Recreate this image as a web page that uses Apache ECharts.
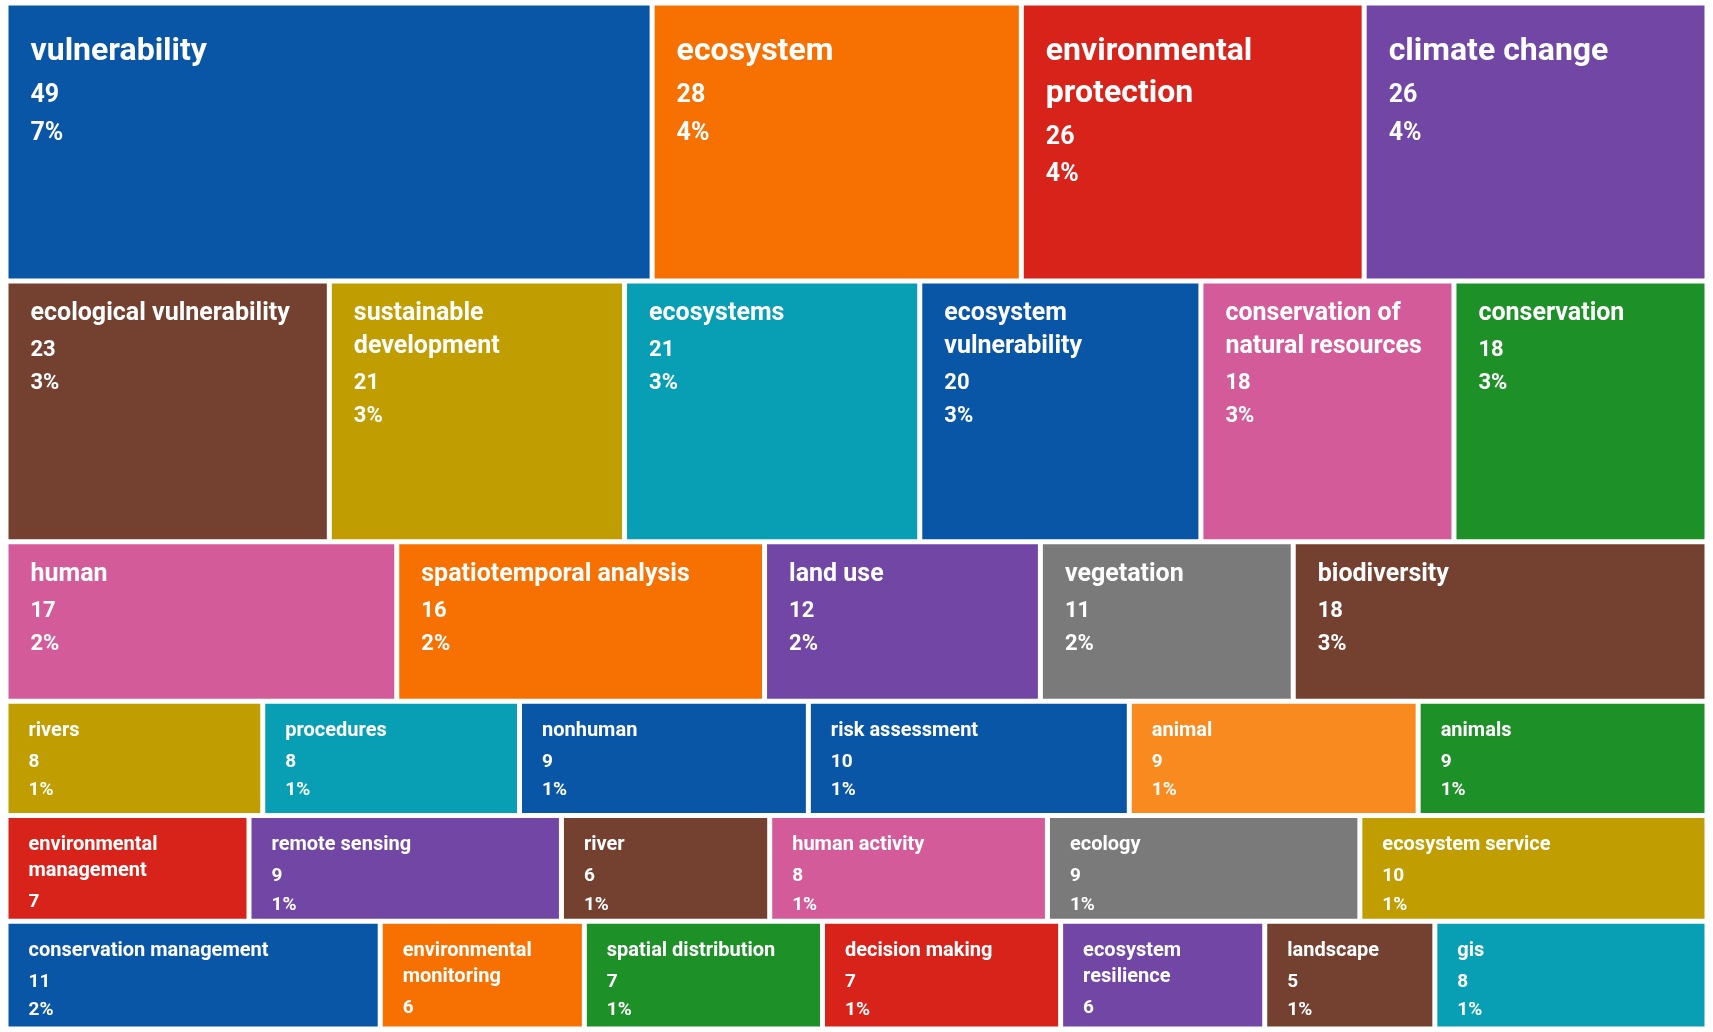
<!DOCTYPE html>
<html>
<head>
<meta charset="utf-8">
<script src="https://cdn.jsdelivr.net/npm/echarts@6/dist/echarts.min.js"></script>
<style>html,body{margin:0;padding:0;background:#fff}#chart{width:1713px;height:1032px}</style>
</head>
<body>
<div id="chart"></div>
<script>
// keyword rows of the treemap, top to bottom
var row1Names = ['vulnerability', 'ecosystem', 'environmental protection', 'climate change'];
var row1Values = [49, 28, 26, 26];
var row2Names = ['ecological vulnerability', 'sustainable development', 'ecosystems', 'ecosystem vulnerability', 'conservation of natural resources', 'conservation'];
var row2Values = [23, 21, 21, 20, 18, 18];
var row3Names = ['human', 'spatiotemporal analysis', 'land use', 'vegetation', 'biodiversity'];
var row3Values = [17, 16, 12, 11, 18];
var row4Names = ['rivers', 'procedures', 'nonhuman', 'risk assessment', 'animal', 'animals'];
var row4Values = [8, 8, 9, 10, 9, 9];
var row5Names = ['environmental management', 'remote sensing', 'river', 'human activity', 'ecology', 'ecosystem service'];
var row5Values = [7, 9, 6, 8, 9, 10];
var row6Names = ['conservation management', 'environmental monitoring', 'spatial distribution', 'decision making', 'ecosystem resilience', 'landscape', 'gis'];
var row6Values = [11, 6, 7, 7, 6, 5, 8];
var allKeywordTotal = 700; // percentages are shares of all keywords

var palette = {
    blue: '#0a56a6', orange: '#f77102', red: '#d8231b', purple: '#7146a4', brown: '#74402f',
    olive: '#c09d00', teal: '#089fb4', pink: '#d45b9a', green: '#1e9028', gray: '#7a7a7a', lorange: '#f98a1f'
};
var rowColors = [
    ['blue', 'orange', 'red', 'purple'],
    ['brown', 'olive', 'teal', 'blue', 'pink', 'green'],
    ['pink', 'orange', 'purple', 'gray', 'brown'],
    ['olive', 'teal', 'blue', 'blue', 'lorange', 'green'],
    ['red', 'purple', 'brown', 'pink', 'gray', 'olive'],
    ['blue', 'orange', 'green', 'red', 'purple', 'brown', 'teal']
];
var rows = [
    [row1Names, row1Values], [row2Names, row2Values], [row3Names, row3Values],
    [row4Names, row4Values], [row5Names, row5Values], [row6Names, row6Values]
];

var data = [];
var yStart = 0;
rows.forEach(function (r, ri) {
    var sum = r[1].reduce(function (a, b) { return a + b; }, 0);
    var acc = 0;
    r[0].forEach(function (n, i) {
        var v = r[1][i];
        data.push({
            name: n,
            value: [acc / sum, (acc + v) / sum, yStart, yStart + sum, v, ri],
            itemStyle: { color: palette[rowColors[ri][i]] }
        });
        acc += v;
    });
    yStart += sum;
});

// word wrap by measuring on a canvas
var measureCtx = document.createElement('canvas').getContext('2d');
function wrap(text, fontSize, maxW) {
    measureCtx.font = 'bold ' + fontSize + 'px Roboto';
    var words = text.split(' '), lines = [], cur = '';
    words.forEach(function (wd) {
        var t = cur ? cur + ' ' + wd : wd;
        if (cur && measureCtx.measureText(t).width > maxW) { lines.push(cur); cur = wd; }
        else cur = t;
    });
    lines.push(cur);
    return lines.join('\n');
}

var myChart = echarts.init(document.getElementById('chart'));
var option = {
    animation: false,
    grid: { left: 6, right: 6, top: 3, bottom: 3 },
    xAxis: { type: 'value', min: 0, max: 1, show: false },
    yAxis: { type: 'value', min: 0, max: yStart, inverse: true, show: false },
    series: [{
        type: 'custom',
        data: data,
        encode: { x: [0, 1], y: [2, 3] },
        renderItem: function (params, api) {
            var p0 = api.coord([api.value(0), api.value(2)]);
            var p1 = api.coord([api.value(1), api.value(3)]);
            var ri = api.value(5);
            var x = p0[0] + 2.5, y = p0[1] + 2.5;
            var w = p1[0] - p0[0] - 5, h = p1[1] - p0[1] - 5;
            var big = ri === 0 ? 32 : (ri < 3 ? 25 : 20);
            var small = ri === 0 ? 25 : (ri < 3 ? 22 : 19);
            var v = api.value(4);
            var pct = Math.round(v / allKeywordTotal * 100);
            var pad = ri < 3 ? 22 : 20;
            var name = wrap(data[params.dataIndex].name, big, w - pad - 10);
            var nameLines = name.split('\n').length;
            var nameLH = big * 1.3;
            var valLH = small * 1.5;
            var ty = y + (ri === 0 ? 26 : 14);
            return {
                type: 'group',
                children: [{
                    type: 'rect',
                    shape: { x: x, y: y, width: w, height: h },
                    style: { fill: api.visual('color') }
                }, {
                    type: 'text',
                    x: x + pad,
                    y: ty,
                    style: {
                        text: name, fill: '#fff', fontFamily: 'Roboto', fontWeight: 'bold',
                        fontSize: big, lineHeight: nameLH
                    }
                }, {
                    type: 'text',
                    x: x + pad,
                    y: ty + nameLines * nameLH + 4,
                    style: {
                        text: v + '\n' + pct + '%', fill: '#fff', fontFamily: 'Roboto', fontWeight: 'bold',
                        fontSize: small, lineHeight: valLH
                    }
                }]
            };
        }
    }]
};
myChart.setOption(option);
</script>
</body>
</html>
